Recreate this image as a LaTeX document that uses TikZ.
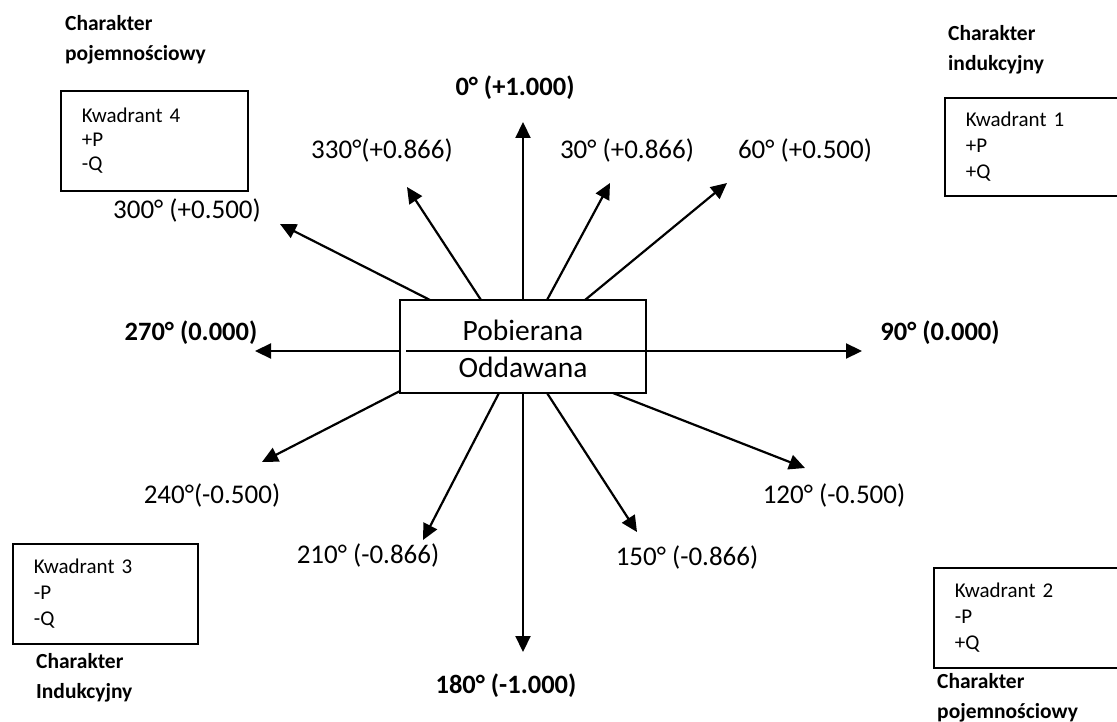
\documentclass[tikz,border=0pt]{standalone}
\usepackage{fontspec}
\setmainfont{Carlito}
\usetikzlibrary{arrows.meta}
\begin{document}
\begin{tikzpicture}[x=1pt,y=-1pt,
  arr/.style={line width=2.2pt,-{Triangle[length=16pt,width=15pt]}},
  lbl/.style={font=\fontsize{27}{30}\selectfont,inner sep=0pt},
  blbl/.style={font=\fontsize{26.5}{30}\selectfont\bfseries,inner sep=0pt},
  qbox/.style={draw,line width=1.8pt,anchor=north west,align=left,inner xsep=21pt,inner ysep=0pt,font=\fontsize{21}{26}\selectfont},
  chr/.style={anchor=west,align=left,inner sep=0pt,font=\fontsize{21.5}{30}\selectfont\bfseries}]
\clip (0,0) rectangle (1117,722);
\fill[white] (0,0) rectangle (1117,722);

% central box
\node[draw,line width=1.8pt,minimum width=246pt,minimum height=93pt,inner sep=0pt] (C) at (523,346.5) {};
\node[font=\fontsize{29.5}{30}\selectfont,inner sep=0pt] (P) at (523,330) {Pobierana};
\node[font=\fontsize{29.5}{30}\selectfont,inner sep=0pt] (O) at (523,367) {Oddawana};

% start points
\coordinate (s0) at (523,300);
\coordinate (s30) at (547,300);
\coordinate (s60) at (585,300);
\coordinate (s90) at (406,351);
\coordinate (s120) at (613,393);
\coordinate (s150) at (547,393);
\coordinate (s180) at (523,393);
\coordinate (s210) at (499,393);
\coordinate (s240) at (400,391);
\coordinate (s270) at (400,351);
\coordinate (s300) at (430,300);
\coordinate (s330) at (481,300);
% tips
\coordinate (t0) at (523,122);
\coordinate (t30) at (610,183);
\coordinate (t60) at (727,183);
\coordinate (t90) at (862,351);
\coordinate (t120) at (805,468);
\coordinate (t150) at (637,532);
\coordinate (t180) at (523,652);
\coordinate (t210) at (423,540);
\coordinate (t240) at (262,462);
\coordinate (t270) at (255,351);
\coordinate (t300) at (280,224);
\coordinate (t330) at (407,187);

\foreach \a in {0,30,60,90,120,150,180,210,240,270,300,330}
  \draw[arr] (s\a) -- (t\a);

% labels
\node[blbl] (L0) at (515,88) {0° (+1.000)};
\node[lbl] (L30) at (627,150) {30° (+0.866)};
\node[lbl] (L60) at (805,150) {60° (+0.500)};
\node[blbl] (L90) at (940,333) {90° (0.000)};
\node[lbl] (L120) at (834,495) {120° (-0.500)};
\node[lbl] (L150) at (687,557) {150° (-0.866)};
\node[blbl] (L180) at (506,686) {180° (-1.000)};
\node[lbl] (L210) at (368,555) {210° (-0.866)};
\node[lbl] (L240) at (212,495) {240°(-0.500)};
\node[blbl] (L270) at (191,333) {270° (0.000)};
\node[lbl] (L300) at (187,210) {300° (+0.500)};
\node[lbl] (L330) at (382,150) {330°(+0.866)};

% quadrant boxes
\node[qbox,text width=145pt,minimum height=100pt,font=\fontsize{21}{24}\selectfont] (Q4) at (60,90) {Kwadrant 4\\+P\\-Q};
\node[qbox,text width=160pt,minimum height=98pt] (Q1) at (944,97) {Kwadrant 1\\+P\\+Q};
\node[qbox,text width=143pt,minimum height=100pt] (Q3) at (12,543) {Kwadrant 3\\-P\\-Q};
\node[qbox,text width=160pt,minimum height=100pt] (Q2) at (933,567) {Kwadrant 2\\-P\\+Q};

% character labels
\node[chr] (K4) at (65,40) {Charakter\\pojemnościowy};
\node[chr] (K1) at (948,50) {Charakter\\indukcyjny};
\node[chr] (K3) at (36,678) {Charakter\\Indukcyjny};
\node[chr] (K2) at (937,698) {Charakter\\pojemnościowy};
\end{tikzpicture}
\end{document}
